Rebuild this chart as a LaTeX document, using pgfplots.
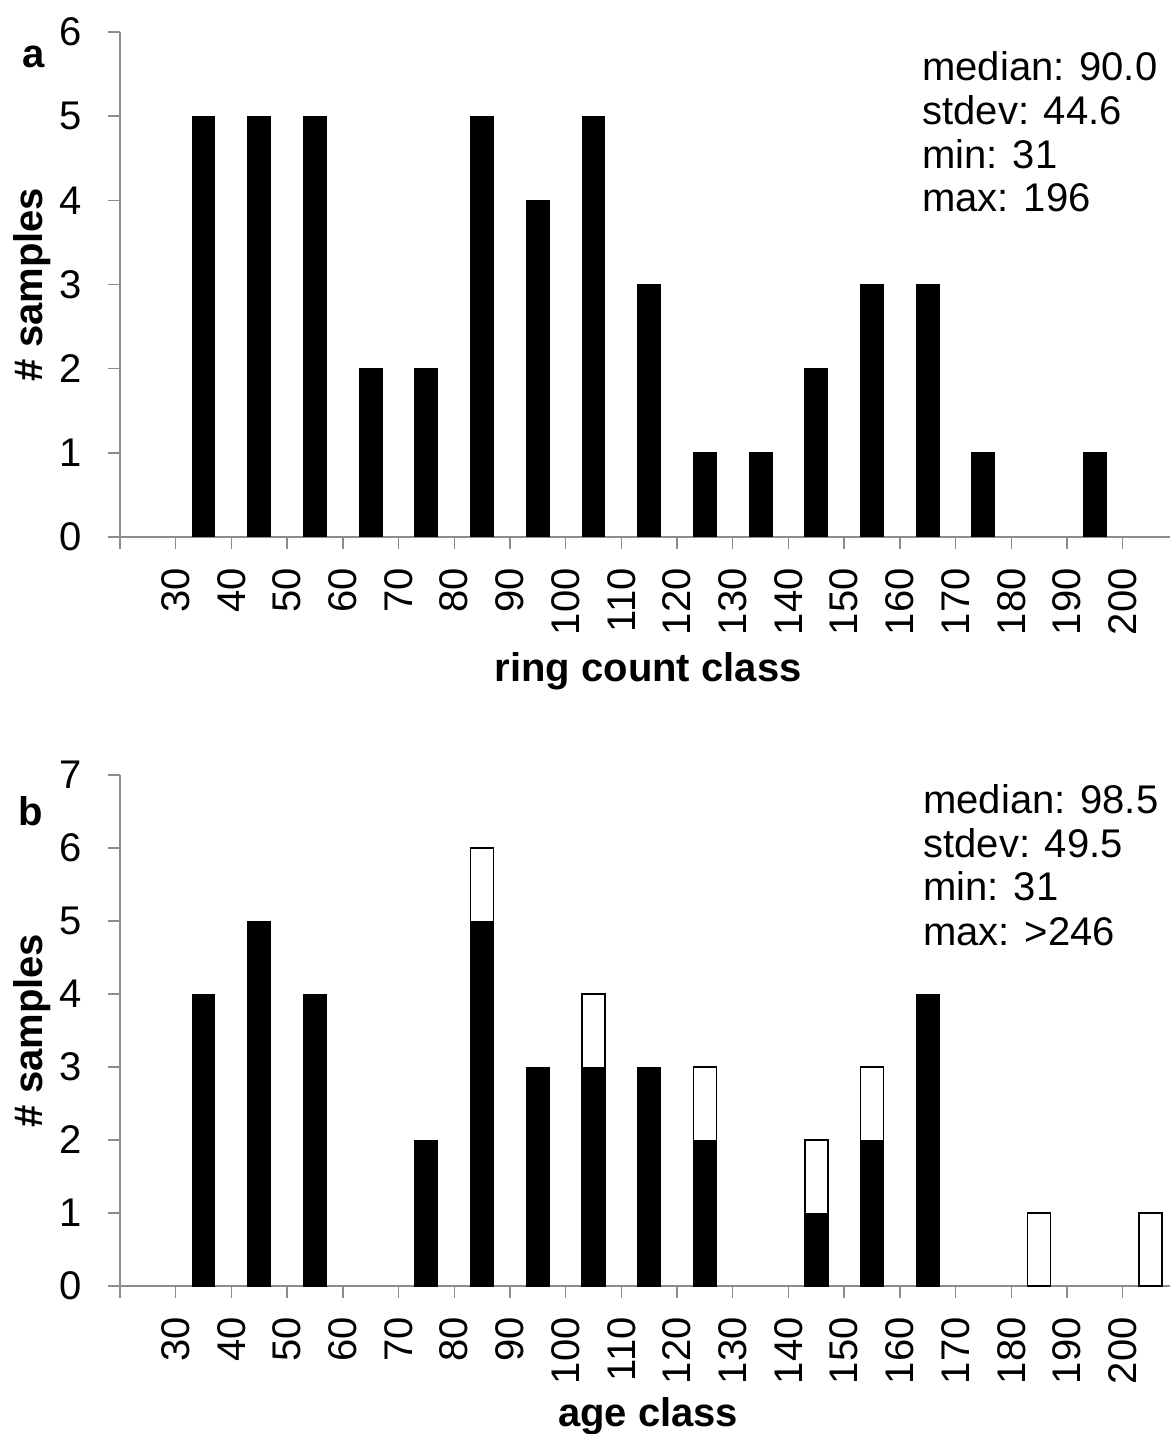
\documentclass[border=0pt]{standalone}
\usepackage{fontspec}
\setmainfont{Liberation Sans}
\usepackage{pgfplots}
\pgfplotsset{compat=1.18}
\definecolor{axgray}{rgb}{0.55,0.55,0.55}
\pgfplotsset{
  histo/.style={
    scale only axis, width=525pt,
    xmin=20, xmax=208.5, ymin=0,
    axis x line=bottom, axis y line=left,
    axis line style={-, axgray, line width=0.7pt},
    tick style={axgray, line width=0.7pt},
    tick align=outside,
    major tick length=6pt,
    xtick={30,40,...,200},
    extra x ticks={20}, extra x tick labels={},
    ytick distance=1,
    /pgf/number format/assume math mode=true,
    tick label style={font=\fontsize{20}{24}\selectfont},
    xticklabel style={rotate=90, anchor=east, inner sep=0pt, xshift=-9.5pt},
    yticklabel style={anchor=east, inner sep=0pt, xshift=-13pt},
    label style={font=\bfseries\fontsize{20}{24}\selectfont},
    xlabel style={at={(rel axis cs:0.503,0)}, anchor=base, yshift=-70pt, inner sep=0pt},
    ylabel style={at={(rel axis cs:-0.0838,0.5)}, anchor=center, rotate=0, inner sep=0pt},
    ylabel={\# samples},
    clip=false,
  },
  blackbar/.style={ybar, bar shift=0pt, bar width=4.1, fill=black, draw=black, line width=0.5pt},
  whitebar/.style={ybar, bar shift=0pt, bar width=4.1, fill=white, draw=black, line width=0.8pt},
}
\pgfplotstableread{
x n
35 5
45 5
55 5
65 2
75 2
85 5
95 4
105 5
115 3
125 1
135 1
145 2
155 3
165 3
175 1
195 1
}\ringcount
\pgfplotstableread{
x n
35 4
45 5
55 4
75 2
85 5
95 3
105 3
115 3
125 2
145 1
155 2
165 4
}\ageblack
\pgfplotstableread{
x n
85 6
105 4
125 3
145 2
155 3
185 1
205 1
}\agetotal
\begin{document}
\begin{tikzpicture}
\useasboundingbox (-60pt,-448.5pt) rectangle (525pt,268.5pt);
\begin{axis}[histo, at={(0,0)}, anchor=south west, height=252.5pt, ymax=6,
  xlabel={ring count class}, xlabel style={yshift=-2pt}]
\addplot[blackbar] table[x=x,y=n] {\ringcount};
\end{axis}
\node[anchor=base west, font=\bfseries\fontsize{20}{24}\selectfont, inner sep=0pt] at (-49pt,234.5pt) {a};
\begin{scope}[every node/.style={anchor=base west, inner sep=0pt, font=\fontsize{20}{24}\selectfont}]
\node at (401pt,228pt) {median: 90.0};
\node at (401pt,206.2pt) {stdev: 44.6};
\node at (401pt,184.3pt) {min: 31};
\node at (401pt,162.5pt) {max: 196};
\end{scope}
\begin{axis}[histo, at={(0,-374.5pt)}, anchor=south west, height=255.5pt, ymax=7,
  xlabel={age class}]
\addplot[whitebar] table[x=x,y=n] {\agetotal};
\addplot[blackbar] table[x=x,y=n] {\ageblack};
\end{axis}
\node[anchor=base west, font=\bfseries\fontsize{20}{24}\selectfont, inner sep=0pt] at (-51pt,-144pt) {b};
\begin{scope}[every node/.style={anchor=base west, inner sep=0pt, font=\fontsize{20}{24}\selectfont}]
\node at (401.5pt,-138pt) {median: 98.5};
\node at (401.5pt,-160pt) {stdev: 49.5};
\node at (401.5pt,-181.5pt) {min: 31};
\node at (401.5pt,-204pt) {max: >246};
\end{scope}
\end{tikzpicture}
\end{document}
